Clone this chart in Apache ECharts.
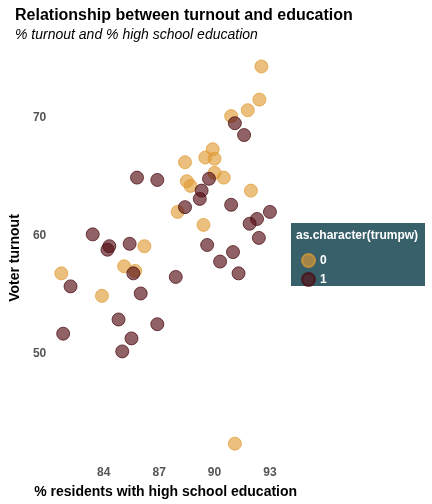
<!DOCTYPE html>
<html><head><meta charset="utf-8">
<script src="https://cdn.jsdelivr.net/npm/echarts@6/dist/echarts.min.js"></script>
<style>html,body{margin:0;padding:0;background:#fff}#chart{width:432px;height:504px}</style>
</head><body><div id="chart"></div>
<script>
// trumpw = 0
var edu0 = [92.54,92.43,91.8,90.9,89.9,89.5,90.0,88.4,90.0,90.5,88.5,88.7,91.97,88.0,89.4,86.2,85.1,81.7,83.9,91.1,85.7];
var turn0 = [74.3,71.5,70.6,70.1,67.3,66.6,66.5,66.2,65.3,64.9,64.6,64.2,63.8,62.0,60.9,59.1,57.4,56.8,54.9,42.4,57.0];
// trumpw = 1
var edu1 = [91.1,91.6,85.8,86.9,89.7,89.3,89.2,88.4,90.9,92.3,91.9,93.0,92.4,83.4,84.3,84.2,85.4,89.6,91.0,90.3,91.3,85.6,87.9,82.2,86.0,84.8,86.9,81.8,85.5,85.0];
var turn1 = [69.5,68.5,64.9,64.7,64.8,63.8,63.1,62.4,62.6,61.4,61.0,62.0,59.8,60.1,59.1,58.8,59.3,59.2,58.6,57.8,56.8,56.8,56.5,55.7,55.1,52.9,52.5,51.7,51.3,50.2];
var xTicks = [84, 87, 90, 93];
var yTicks = [50, 60, 70];

function pairs(a, b) { return a.map(function (v, i) { return [v, b[i]]; }); }

var chart = echarts.init(document.getElementById('chart'));
var lab = { color: '#555', fontWeight: 'bold', fontSize: 12, fontFamily: 'Liberation Sans' };
option = {
    textStyle: { fontFamily: 'Liberation Sans' },
    title: {
        text: 'Relationship between turnout and education',
        subtext: '% turnout and % high school education',
        left: 10, top: 3,
        textStyle: { fontSize: 16, fontWeight: 'bold', color: '#000' },
        subtextStyle: { fontSize: 14, fontStyle: 'italic', color: '#000' },
        itemGap: 4
    },
    grid: { left: 29, right: 151, top: 57, bottom: 40 },
    xAxis: {
        type: 'value', min: 81.1, max: 93.6,
        name: '% residents with high school education',
        nameLocation: 'middle', nameGap: 26,
        nameTextStyle: { fontWeight: 'bold', fontSize: 14, color: '#000' },
        axisLine: { show: false }, axisTick: { show: false }, splitLine: { show: false },
        axisLabel: Object.assign({ customValues: xTicks, margin: 8 }, lab)
    },
    yAxis: {
        type: 'value', min: 41.1, max: 75.1,
        name: 'Voter turnout', nameLocation: 'middle', nameGap: 22,
        nameTextStyle: { fontWeight: 'bold', fontSize: 14, color: '#000' },
        axisLine: { show: false }, axisTick: { show: false }, splitLine: { show: false },
        axisLabel: Object.assign({ customValues: yTicks, margin: 4 }, lab)
    },
    legend: {
        orient: 'vertical', left: 296, top: 248, itemGap: 4,
        itemWidth: 13, itemHeight: 13,
        textStyle: { color: '#fff', fontWeight: 'bold', fontSize: 12 },
        data: ['0', '1']
    },
    graphic: [
        { type: 'rect', left: 291, top: 223, shape: { width: 134, height: 63 }, style: { fill: '#37606A' }, z: -1 },
        { type: 'text', left: 296, top: 230, style: { text: 'as.character(trumpw)', fill: '#fff', font: 'bold 12px Liberation Sans' } }
    ],
    series: [
        { name: '0', type: 'scatter', symbolSize: 13, data: pairs(edu0, turn0),
          itemStyle: { color: 'rgba(224,155,52,0.8)', borderColor: 'rgba(224,155,52,0.9)', borderWidth: 1 } },
        { name: '1', type: 'scatter', symbolSize: 13, data: pairs(edu1, turn1),
          itemStyle: { color: 'rgba(85,15,20,0.82)', borderColor: 'rgba(70,10,15,0.9)', borderWidth: 1 } }
    ]
};
chart.setOption(option);
</script></body></html>
